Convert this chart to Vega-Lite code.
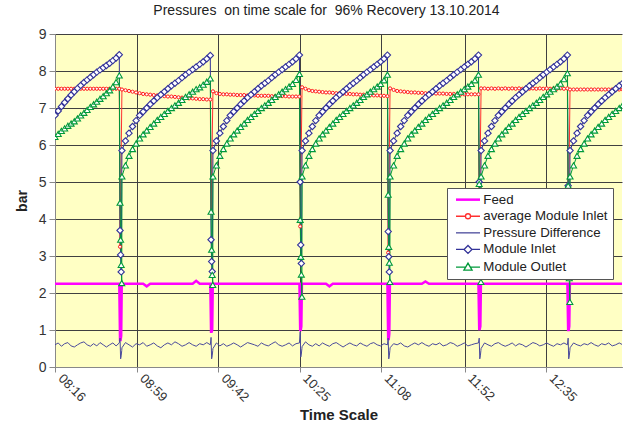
{
"$schema":"https://vega.github.io/schema/vega-lite/v6.json",
"width":567,"height":333,"autosize":"none",
"padding":{"left":55,"top":34,"right":1,"bottom":64},
"background":"white",
"title":{"text":"Pressures\u00a0 on time scale for\u00a0 96% Recovery 13.10.2014","font":"Liberation Sans","fontSize":14,"fontWeight":"normal","color":"#222","anchor":"middle","dx":-12,"offset":9},
"config":{"font":"Liberation Sans","view":{"fill":"#ffffc4","stroke":null}},
"data":{"values":[
{"t":0,"feed":2.25,"avg":7.52,"dp":0.60,"inlet":6.80,"outlet":6.22},
{"t":1.7,"feed":2.25,"avg":7.52,"dp":0.65,"inlet":6.92,"outlet":6.30},
{"t":3.39,"feed":2.25,"avg":7.52,"dp":0.56,"inlet":7.04,"outlet":6.38},
{"t":5.09,"feed":2.25,"avg":7.52,"dp":0.63,"inlet":7.15,"outlet":6.45},
{"t":6.78,"feed":2.25,"avg":7.52,"dp":0.66,"inlet":7.25,"outlet":6.52},
{"t":8.48,"feed":2.25,"avg":7.52,"dp":0.57,"inlet":7.35,"outlet":6.58},
{"t":10.17,"feed":2.25,"avg":7.52,"dp":0.54,"inlet":7.44,"outlet":6.64},
{"t":11.87,"feed":2.25,"avg":7.52,"dp":0.60,"inlet":7.53,"outlet":6.72},
{"t":13.56,"feed":2.25,"avg":7.52,"dp":0.65,"inlet":7.61,"outlet":6.80},
{"t":15.26,"feed":2.25,"avg":7.52,"dp":0.68,"inlet":7.69,"outlet":6.87},
{"t":16.95,"feed":2.25,"avg":7.52,"dp":0.60,"inlet":7.76,"outlet":6.95},
{"t":18.65,"feed":2.25,"avg":7.52,"dp":0.56,"inlet":7.83,"outlet":7.03},
{"t":20.34,"feed":2.25,"avg":7.52,"dp":0.63,"inlet":7.90,"outlet":7.10},
{"t":22.04,"feed":2.25,"avg":7.52,"dp":0.57,"inlet":7.97,"outlet":7.17},
{"t":23.73,"feed":2.25,"avg":7.52,"dp":0.66,"inlet":8.03,"outlet":7.25},
{"t":25.43,"feed":2.25,"avg":7.52,"dp":0.60,"inlet":8.09,"outlet":7.32},
{"t":27.12,"feed":2.25,"avg":7.52,"dp":0.54,"inlet":8.15,"outlet":7.40},
{"t":28.82,"feed":2.25,"avg":7.52,"dp":0.60,"inlet":8.21,"outlet":7.48},
{"t":30.51,"feed":2.25,"avg":7.52,"dp":0.65,"inlet":8.28,"outlet":7.58},
{"t":32.21,"feed":2.25,"avg":7.52,"dp":0.57,"inlet":8.35,"outlet":7.70},
{"t":33.9,"feed":2.25,"avg":7.52,"dp":0.65,"inlet":8.44,"outlet":7.88},
{"t":34.3,"feed":0.73,"avg":3.25,"dp":0.78,"inlet":3.69,"outlet":4.44},
{"t":34.6,"feed":0.73,"dp":0.22,"inlet":3.03,"outlet":3.44},
{"t":34.9,"feed":0.85,"dp":0.30,"inlet":2.57,"outlet":2.76},
{"t":35.2,"feed":2.25,"dp":0.45,"outlet":2.27},
{"t":35.3,"feed":2.25,"avg":7.50,"dp":0.52,"inlet":5.85,"outlet":5.15},
{"t":37.16,"feed":2.25,"avg":7.48,"dp":0.66,"inlet":6.11,"outlet":5.45},
{"t":39.03,"feed":2.25,"avg":7.46,"dp":0.60,"inlet":6.32,"outlet":5.71},
{"t":40.89,"feed":2.25,"avg":7.44,"dp":0.54,"inlet":6.50,"outlet":5.89},
{"t":42.76,"feed":2.25,"avg":7.42,"dp":0.63,"inlet":6.66,"outlet":6.04},
{"t":44.62,"feed":2.25,"avg":7.40,"dp":0.60,"inlet":6.80,"outlet":6.18},
{"t":46.48,"feed":2.25,"avg":7.38,"dp":0.66,"inlet":6.90,"outlet":6.29},
{"t":48.35,"feed":2.18,"avg":7.37,"dp":0.56,"inlet":7.00,"outlet":6.39},
{"t":50.21,"feed":2.25,"avg":7.36,"dp":0.60,"inlet":7.10,"outlet":6.49},
{"t":52.08,"feed":2.25,"avg":7.35,"dp":0.65,"inlet":7.19,"outlet":6.58},
{"t":53.94,"feed":2.25,"avg":7.34,"dp":0.57,"inlet":7.28,"outlet":6.68},
{"t":55.8,"feed":2.25,"avg":7.33,"dp":0.52,"inlet":7.36,"outlet":6.76},
{"t":57.67,"feed":2.25,"avg":7.32,"dp":0.60,"inlet":7.44,"outlet":6.84},
{"t":59.53,"feed":2.25,"avg":7.31,"dp":0.65,"inlet":7.52,"outlet":6.92},
{"t":61.4,"feed":2.25,"avg":7.31,"dp":0.60,"inlet":7.60,"outlet":7.00},
{"t":63.26,"feed":2.25,"avg":7.30,"dp":0.68,"inlet":7.67,"outlet":7.07},
{"t":65.12,"feed":2.25,"avg":7.29,"dp":0.63,"inlet":7.74,"outlet":7.14},
{"t":66.99,"feed":2.25,"avg":7.28,"dp":0.56,"inlet":7.82,"outlet":7.22},
{"t":68.85,"feed":2.25,"avg":7.27,"dp":0.60,"inlet":7.90,"outlet":7.30},
{"t":70.72,"feed":2.25,"avg":7.26,"dp":0.66,"inlet":7.97,"outlet":7.37},
{"t":72.58,"feed":2.25,"avg":7.26,"dp":0.60,"inlet":8.04,"outlet":7.44},
{"t":74.44,"feed":2.33,"avg":7.25,"dp":0.56,"inlet":8.11,"outlet":7.51},
{"t":76.31,"feed":2.25,"avg":7.24,"dp":0.63,"inlet":8.18,"outlet":7.56},
{"t":78.17,"feed":2.25,"avg":7.24,"dp":0.60,"inlet":8.25,"outlet":7.63},
{"t":80.04,"feed":2.25,"avg":7.23,"dp":0.66,"inlet":8.33,"outlet":7.71},
{"t":81.9,"feed":2.25,"avg":7.23,"dp":0.60,"inlet":8.42,"outlet":7.80},
{"t":82.3,"feed":0.95,"avg":4.17,"dp":0.80,"inlet":3.44,"outlet":4.20},
{"t":82.6,"feed":0.95,"dp":0.22,"inlet":2.85,"outlet":3.17},
{"t":82.9,"feed":1.00,"dp":0.30,"inlet":2.58,"outlet":2.49},
{"t":83.2,"feed":2.25,"dp":0.45,"outlet":2.22},
{"t":83.3,"feed":2.25,"avg":7.45,"dp":0.50,"inlet":5.85,"outlet":5.15},
{"t":85.12,"feed":2.25,"avg":7.40,"dp":0.65,"inlet":6.11,"outlet":5.45},
{"t":86.95,"feed":2.25,"avg":7.38,"dp":0.57,"inlet":6.32,"outlet":5.71},
{"t":88.77,"feed":2.25,"avg":7.37,"dp":0.63,"inlet":6.50,"outlet":5.89},
{"t":90.6,"feed":2.25,"avg":7.37,"dp":0.56,"inlet":6.66,"outlet":6.04},
{"t":92.42,"feed":2.25,"avg":7.36,"dp":0.60,"inlet":6.80,"outlet":6.18},
{"t":94.24,"feed":2.25,"avg":7.36,"dp":0.65,"inlet":6.90,"outlet":6.29},
{"t":96.07,"feed":2.25,"avg":7.35,"dp":0.60,"inlet":7.00,"outlet":6.39},
{"t":97.89,"feed":2.25,"avg":7.35,"dp":0.54,"inlet":7.10,"outlet":6.49},
{"t":99.72,"feed":2.25,"avg":7.35,"dp":0.60,"inlet":7.19,"outlet":6.58},
{"t":101.54,"feed":2.25,"avg":7.34,"dp":0.66,"inlet":7.28,"outlet":6.68},
{"t":103.36,"feed":2.25,"avg":7.34,"dp":0.63,"inlet":7.36,"outlet":6.76},
{"t":105.19,"feed":2.25,"avg":7.34,"dp":0.60,"inlet":7.44,"outlet":6.84},
{"t":107.01,"feed":2.25,"avg":7.33,"dp":0.56,"inlet":7.52,"outlet":6.92},
{"t":108.84,"feed":2.25,"avg":7.33,"dp":0.65,"inlet":7.60,"outlet":7.00},
{"t":110.66,"feed":2.25,"avg":7.33,"dp":0.60,"inlet":7.67,"outlet":7.07},
{"t":112.48,"feed":2.25,"avg":7.33,"dp":0.57,"inlet":7.74,"outlet":7.14},
{"t":114.31,"feed":2.25,"avg":7.32,"dp":0.63,"inlet":7.82,"outlet":7.22},
{"t":116.13,"feed":2.25,"avg":7.32,"dp":0.68,"inlet":7.90,"outlet":7.30},
{"t":117.96,"feed":2.25,"avg":7.32,"dp":0.60,"inlet":7.97,"outlet":7.37},
{"t":119.78,"feed":2.25,"avg":7.32,"dp":0.56,"inlet":8.04,"outlet":7.44},
{"t":121.6,"feed":2.25,"avg":7.32,"dp":0.60,"inlet":8.11,"outlet":7.51},
{"t":123.43,"feed":2.25,"avg":7.31,"dp":0.65,"inlet":8.18,"outlet":7.58},
{"t":125.25,"feed":2.25,"avg":7.31,"dp":0.57,"inlet":8.25,"outlet":7.65},
{"t":127.08,"feed":2.25,"avg":7.31,"dp":0.63,"inlet":8.33,"outlet":7.76},
{"t":128.9,"feed":2.25,"avg":7.31,"dp":0.65,"inlet":8.43,"outlet":7.92},
{"t":129.3,"feed":1.00,"avg":3.80,"dp":0.95,"inlet":5.00,"outlet":3.98},
{"t":129.6,"feed":1.00,"dp":0.27,"inlet":3.30,"outlet":2.98},
{"t":129.9,"feed":1.10,"dp":0.35,"inlet":2.80,"outlet":2.50},
{"t":130.2,"feed":2.25,"dp":0.50,"outlet":1.90},
{"t":130.3,"feed":2.25,"avg":7.56,"dp":0.55,"inlet":5.85,"outlet":5.15},
{"t":132.1,"feed":2.25,"avg":7.52,"dp":0.68,"inlet":6.11,"outlet":5.45},
{"t":133.9,"feed":2.25,"avg":7.48,"dp":0.60,"inlet":6.32,"outlet":5.71},
{"t":135.7,"feed":2.25,"avg":7.46,"dp":0.56,"inlet":6.50,"outlet":5.89},
{"t":137.5,"feed":2.25,"avg":7.45,"dp":0.63,"inlet":6.66,"outlet":6.04},
{"t":139.3,"feed":2.25,"avg":7.44,"dp":0.57,"inlet":6.80,"outlet":6.18},
{"t":141.1,"feed":2.25,"avg":7.43,"dp":0.65,"inlet":6.90,"outlet":6.29},
{"t":142.9,"feed":2.25,"avg":7.42,"dp":0.60,"inlet":7.00,"outlet":6.39},
{"t":144.7,"feed":2.18,"avg":7.42,"dp":0.56,"inlet":7.10,"outlet":6.49},
{"t":146.5,"feed":2.25,"avg":7.41,"dp":0.63,"inlet":7.19,"outlet":6.58},
{"t":148.3,"feed":2.25,"avg":7.40,"dp":0.66,"inlet":7.28,"outlet":6.68},
{"t":150.1,"feed":2.25,"avg":7.40,"dp":0.60,"inlet":7.36,"outlet":6.76},
{"t":151.9,"feed":2.25,"avg":7.39,"dp":0.54,"inlet":7.44,"outlet":6.84},
{"t":153.7,"feed":2.25,"avg":7.38,"dp":0.60,"inlet":7.52,"outlet":6.92},
{"t":155.5,"feed":2.25,"avg":7.38,"dp":0.65,"inlet":7.60,"outlet":7.00},
{"t":157.3,"feed":2.25,"avg":7.37,"dp":0.60,"inlet":7.67,"outlet":7.07},
{"t":159.1,"feed":2.25,"avg":7.37,"dp":0.57,"inlet":7.74,"outlet":7.14},
{"t":160.9,"feed":2.25,"avg":7.36,"dp":0.65,"inlet":7.82,"outlet":7.22},
{"t":162.7,"feed":2.25,"avg":7.36,"dp":0.60,"inlet":7.90,"outlet":7.30},
{"t":164.5,"feed":2.25,"avg":7.35,"dp":0.56,"inlet":7.97,"outlet":7.37},
{"t":166.3,"feed":2.25,"avg":7.35,"dp":0.63,"inlet":8.04,"outlet":7.44},
{"t":168.1,"feed":2.25,"avg":7.34,"dp":0.66,"inlet":8.11,"outlet":7.51},
{"t":169.9,"feed":2.25,"avg":7.34,"dp":0.60,"inlet":8.18,"outlet":7.58},
{"t":171.7,"feed":2.25,"avg":7.33,"dp":0.57,"inlet":8.25,"outlet":7.65},
{"t":173.5,"feed":2.25,"avg":7.33,"dp":0.63,"inlet":8.33,"outlet":7.75},
{"t":175.3,"feed":2.25,"avg":7.32,"dp":0.60,"inlet":8.43,"outlet":7.90},
{"t":175.7,"feed":0.76,"avg":3.09,"dp":0.78,"inlet":3.66,"outlet":4.66},
{"t":176.0,"feed":0.76,"dp":0.22,"inlet":2.98,"outlet":3.25},
{"t":176.3,"feed":0.90,"dp":0.30,"inlet":2.57,"outlet":2.82},
{"t":176.6,"feed":2.25,"dp":0.45,"outlet":2.30},
{"t":176.7,"feed":2.25,"avg":7.53,"dp":0.52,"inlet":5.85,"outlet":5.15},
{"t":178.56,"feed":2.25,"avg":7.49,"dp":0.63,"inlet":6.11,"outlet":5.45},
{"t":180.43,"feed":2.25,"avg":7.46,"dp":0.60,"inlet":6.32,"outlet":5.71},
{"t":182.29,"feed":2.25,"avg":7.45,"dp":0.65,"inlet":6.50,"outlet":5.89},
{"t":184.16,"feed":2.25,"avg":7.44,"dp":0.57,"inlet":6.66,"outlet":6.04},
{"t":186.02,"feed":2.25,"avg":7.43,"dp":0.54,"inlet":6.80,"outlet":6.18},
{"t":187.88,"feed":2.25,"avg":7.42,"dp":0.60,"inlet":6.90,"outlet":6.29},
{"t":189.75,"feed":2.25,"avg":7.42,"dp":0.65,"inlet":7.00,"outlet":6.39},
{"t":191.61,"feed":2.25,"avg":7.41,"dp":0.60,"inlet":7.10,"outlet":6.49},
{"t":193.48,"feed":2.25,"avg":7.41,"dp":0.66,"inlet":7.19,"outlet":6.58},
{"t":195.34,"feed":2.31,"avg":7.40,"dp":0.60,"inlet":7.28,"outlet":6.68},
{"t":197.2,"feed":2.25,"avg":7.40,"dp":0.56,"inlet":7.36,"outlet":6.76},
{"t":199.07,"feed":2.25,"avg":7.40,"dp":0.63,"inlet":7.44,"outlet":6.84},
{"t":200.93,"feed":2.25,"avg":7.39,"dp":0.60,"inlet":7.52,"outlet":6.92},
{"t":202.8,"feed":2.25,"avg":7.39,"dp":0.65,"inlet":7.60,"outlet":7.00},
{"t":204.66,"feed":2.25,"avg":7.39,"dp":0.57,"inlet":7.67,"outlet":7.07},
{"t":206.52,"feed":2.25,"avg":7.38,"dp":0.60,"inlet":7.74,"outlet":7.14},
{"t":208.39,"feed":2.25,"avg":7.38,"dp":0.66,"inlet":7.82,"outlet":7.22},
{"t":210.25,"feed":2.25,"avg":7.38,"dp":0.63,"inlet":7.90,"outlet":7.30},
{"t":212.12,"feed":2.25,"avg":7.38,"dp":0.56,"inlet":7.97,"outlet":7.37},
{"t":213.98,"feed":2.25,"avg":7.37,"dp":0.60,"inlet":8.04,"outlet":7.44},
{"t":215.84,"feed":2.25,"avg":7.37,"dp":0.65,"inlet":8.11,"outlet":7.51},
{"t":217.71,"feed":2.25,"avg":7.37,"dp":0.57,"inlet":8.18,"outlet":7.58},
{"t":219.57,"feed":2.25,"avg":7.37,"dp":0.60,"inlet":8.25,"outlet":7.65},
{"t":221.44,"feed":2.25,"avg":7.37,"dp":0.63,"inlet":8.33,"outlet":7.75},
{"t":223.3,"feed":2.25,"avg":7.37,"dp":0.65,"inlet":8.43,"outlet":7.90},
{"t":223.7,"feed":1.03,"avg":3.50,"dp":0.78,"inlet":5.00,"outlet":4.95},
{"t":224.0,"feed":1.03,"dp":0.22,"inlet":4.20,"outlet":3.20},
{"t":224.3,"feed":1.10,"dp":0.30,"inlet":3.00,"outlet":2.60},
{"t":224.6,"feed":2.25,"dp":0.45,"outlet":2.30},
{"t":224.7,"feed":2.25,"avg":7.53,"dp":0.50,"inlet":5.85,"outlet":5.15},
{"t":226.52,"feed":2.25,"avg":7.53,"dp":0.65,"inlet":6.11,"outlet":5.45},
{"t":228.34,"feed":2.25,"avg":7.52,"dp":0.60,"inlet":6.32,"outlet":5.71},
{"t":230.16,"feed":2.25,"avg":7.53,"dp":0.56,"inlet":6.50,"outlet":5.89},
{"t":231.98,"feed":2.25,"avg":7.52,"dp":0.63,"inlet":6.66,"outlet":6.04},
{"t":233.8,"feed":2.25,"avg":7.53,"dp":0.66,"inlet":6.80,"outlet":6.18},
{"t":235.62,"feed":2.25,"avg":7.52,"dp":0.60,"inlet":6.90,"outlet":6.29},
{"t":237.44,"feed":2.25,"avg":7.53,"dp":0.56,"inlet":7.00,"outlet":6.39},
{"t":239.26,"feed":2.25,"avg":7.52,"dp":0.60,"inlet":7.10,"outlet":6.49},
{"t":241.08,"feed":2.25,"avg":7.53,"dp":0.65,"inlet":7.19,"outlet":6.58},
{"t":242.9,"feed":2.25,"avg":7.52,"dp":0.57,"inlet":7.28,"outlet":6.68},
{"t":244.72,"feed":2.25,"avg":7.53,"dp":0.63,"inlet":7.36,"outlet":6.76},
{"t":246.54,"feed":2.25,"avg":7.52,"dp":0.60,"inlet":7.44,"outlet":6.84},
{"t":248.36,"feed":2.25,"avg":7.53,"dp":0.54,"inlet":7.52,"outlet":6.92},
{"t":250.18,"feed":2.25,"avg":7.52,"dp":0.60,"inlet":7.60,"outlet":7.00},
{"t":252.0,"feed":2.25,"avg":7.53,"dp":0.66,"inlet":7.67,"outlet":7.07},
{"t":253.82,"feed":2.25,"avg":7.52,"dp":0.63,"inlet":7.74,"outlet":7.14},
{"t":255.64,"feed":2.25,"avg":7.53,"dp":0.57,"inlet":7.82,"outlet":7.22},
{"t":257.46,"feed":2.25,"avg":7.52,"dp":0.60,"inlet":7.90,"outlet":7.30},
{"t":259.28,"feed":2.25,"avg":7.53,"dp":0.65,"inlet":7.97,"outlet":7.37},
{"t":261.1,"feed":2.25,"avg":7.52,"dp":0.60,"inlet":8.04,"outlet":7.44},
{"t":262.92,"feed":2.25,"avg":7.53,"dp":0.56,"inlet":8.11,"outlet":7.51},
{"t":264.74,"feed":2.25,"avg":7.52,"dp":0.63,"inlet":8.18,"outlet":7.58},
{"t":266.56,"feed":2.25,"avg":7.53,"dp":0.60,"inlet":8.25,"outlet":7.66},
{"t":268.38,"feed":2.25,"avg":7.52,"dp":0.65,"inlet":8.33,"outlet":7.78},
{"t":270.2,"feed":2.25,"avg":7.53,"dp":0.60,"inlet":8.43,"outlet":7.94},
{"t":270.6,"feed":1.00,"avg":3.30,"dp":0.78,"inlet":4.90,"outlet":4.90},
{"t":270.9,"feed":1.00,"dp":0.22,"inlet":3.50,"outlet":3.00},
{"t":271.2,"feed":1.10,"dp":0.30,"inlet":2.80,"outlet":2.40},
{"t":271.5,"feed":2.25,"dp":0.45,"outlet":1.76},
{"t":271.6,"feed":2.25,"avg":7.50,"dp":0.52,"inlet":5.85,"outlet":5.15},
{"t":273.45,"feed":2.25,"avg":7.50,"dp":0.65,"inlet":6.11,"outlet":5.45},
{"t":275.3,"feed":2.25,"avg":7.50,"dp":0.60,"inlet":6.32,"outlet":5.71},
{"t":277.16,"feed":2.25,"avg":7.50,"dp":0.57,"inlet":6.50,"outlet":5.89},
{"t":279.01,"feed":2.25,"avg":7.50,"dp":0.63,"inlet":6.66,"outlet":6.04},
{"t":280.86,"feed":2.25,"avg":7.50,"dp":0.60,"inlet":6.80,"outlet":6.18},
{"t":282.71,"feed":2.25,"avg":7.50,"dp":0.66,"inlet":6.90,"outlet":6.29},
{"t":284.56,"feed":2.25,"avg":7.50,"dp":0.60,"inlet":7.00,"outlet":6.39},
{"t":286.42,"feed":2.25,"avg":7.50,"dp":0.56,"inlet":7.10,"outlet":6.49},
{"t":288.27,"feed":2.25,"avg":7.50,"dp":0.63,"inlet":7.19,"outlet":6.58},
{"t":290.12,"feed":2.25,"avg":7.50,"dp":0.60,"inlet":7.28,"outlet":6.68},
{"t":291.97,"feed":2.25,"avg":7.50,"dp":0.65,"inlet":7.36,"outlet":6.76},
{"t":293.82,"feed":2.25,"avg":7.50,"dp":0.57,"inlet":7.44,"outlet":6.84},
{"t":295.68,"feed":2.25,"avg":7.50,"dp":0.60,"inlet":7.52,"outlet":6.92},
{"t":297.53,"feed":2.25,"avg":7.50,"dp":0.65,"inlet":7.60,"outlet":7.00},
{"t":299.38,"feed":2.25,"avg":7.50,"dp":0.60,"inlet":7.67,"outlet":7.08}
]},
"transform":[{"fold":["feed","avg","dp","inlet","outlet"],"as":["series","value"]},{"filter":"isValid(datum.value)"}],
"encoding":{
"x":{"field":"t","type":"quantitative","scale":{"domain":[0,299],"nice":false,"zero":false},
"axis":{"values":[0,43,86,129,172,216,259],"labelExpr":"timeFormat(datetime(2014,9,13,8,16+datum.value),'%H:%M')","labelAngle":45,"labelAlign":"left","labelBaseline":"middle","labelOffset":5,"labelFontSize":13,"labelColor":"#333","labelPadding":4,"labelFlush":false,"labelOverlap":false,"title":"Time Scale","titleFontSize":15,"titleFontWeight":"bold","titleColor":"#222","titlePadding":4,"grid":true,"gridColor":"#404040","gridWidth":1,"domainColor":"#888","tickColor":"#888","tickSize":5}},
"y":{"field":"value","type":"quantitative","scale":{"domain":[0,9],"nice":false},
"axis":{"values":[0,1,2,3,4,5,6,7,8,9],"labelFontSize":14,"labelColor":"#333","labelPadding":3,"title":"bar","titleFontSize":14,"titleFontWeight":"bold","titleColor":"#222","titlePadding":9,"grid":true,"gridColor":"#404040","gridWidth":1,"domainColor":"#888","tickColor":"#888","tickSize":6}}
},
"layer":[
{"transform":[{"filter":"datum.series==='feed'"}],"mark":{"type":"line","strokeWidth":2.5,"clip":true},
"encoding":{"color":{"field":"series","type":"nominal","scale":{"domain":["feed","avg","dp","inlet","outlet"],"range":["#ff00ff","#ff3030","#4a4a9c","#333399","#00993a"]},
"legend":{"orient":"none","legendX":392,"legendY":154,"title":null,"fillColor":"white","strokeColor":"#555","padding":5,"labelFontSize":13.3,"labelColor":"#222","symbolSize":576,"symbolStrokeWidth":1.3,"rowPadding":2.6,"labelOffset":18,
"labelExpr":"datum.label==='feed'?'Feed':datum.label==='avg'?'average Module Inlet':datum.label==='dp'?'Pressure Difference':datum.label==='inlet'?'Module Inlet':'Module Outlet'",
"encode":{"symbols":{"update":{"x":{"value":16},"shape":{"signal":"datum.value==='feed'||datum.value==='dp'?'M-1,0H1':datum.value==='avg'?'M-1,0H-0.21M0.21,0H1M0.21,0A0.21,0.21,0,1,1,-0.21,0A0.21,0.21,0,1,1,0.21,0Z':datum.value==='inlet'?'M-1,0H-0.33M0.33,0H1M0,-0.33L0.33,0L0,0.33L-0.33,0Z':'M-1,0H-0.19M0.19,0H1M0,-0.33L0.34,0.26L-0.34,0.26Z'"},"fill":{"value":"white"},"strokeWidth":{"signal":"datum.value==='feed'?2.5:1.3"},"size":{"value":576}}}}}}}},
{"transform":[{"filter":"datum.series!=='feed'"}],"mark":{"type":"line","strokeWidth":1,"clip":true},
"encoding":{"color":{"field":"series","type":"nominal","scale":{"domain":["feed","avg","dp","inlet","outlet"],"range":["#ff00ff","#ff3030","#4a4a9c","#333399","#00993a"]}}}},
{"transform":[{"filter":"datum.series==='avg'"}],"mark":{"type":"point","shape":"circle","size":10,"filled":true,"fill":"white","stroke":"#ff1a1a","strokeWidth":1,"opacity":1,"clip":true}},
{"transform":[{"filter":"datum.series==='inlet'"}],"mark":{"type":"point","shape":"diamond","size":40,"filled":true,"fill":"white","stroke":"#333399","strokeWidth":1.1,"opacity":1,"clip":true}},
{"transform":[{"filter":"datum.series==='outlet'"}],"mark":{"type":"point","shape":"triangle-up","size":36,"filled":true,"fill":"white","stroke":"#00993a","strokeWidth":1.1,"opacity":1,"clip":true}}
]
}
